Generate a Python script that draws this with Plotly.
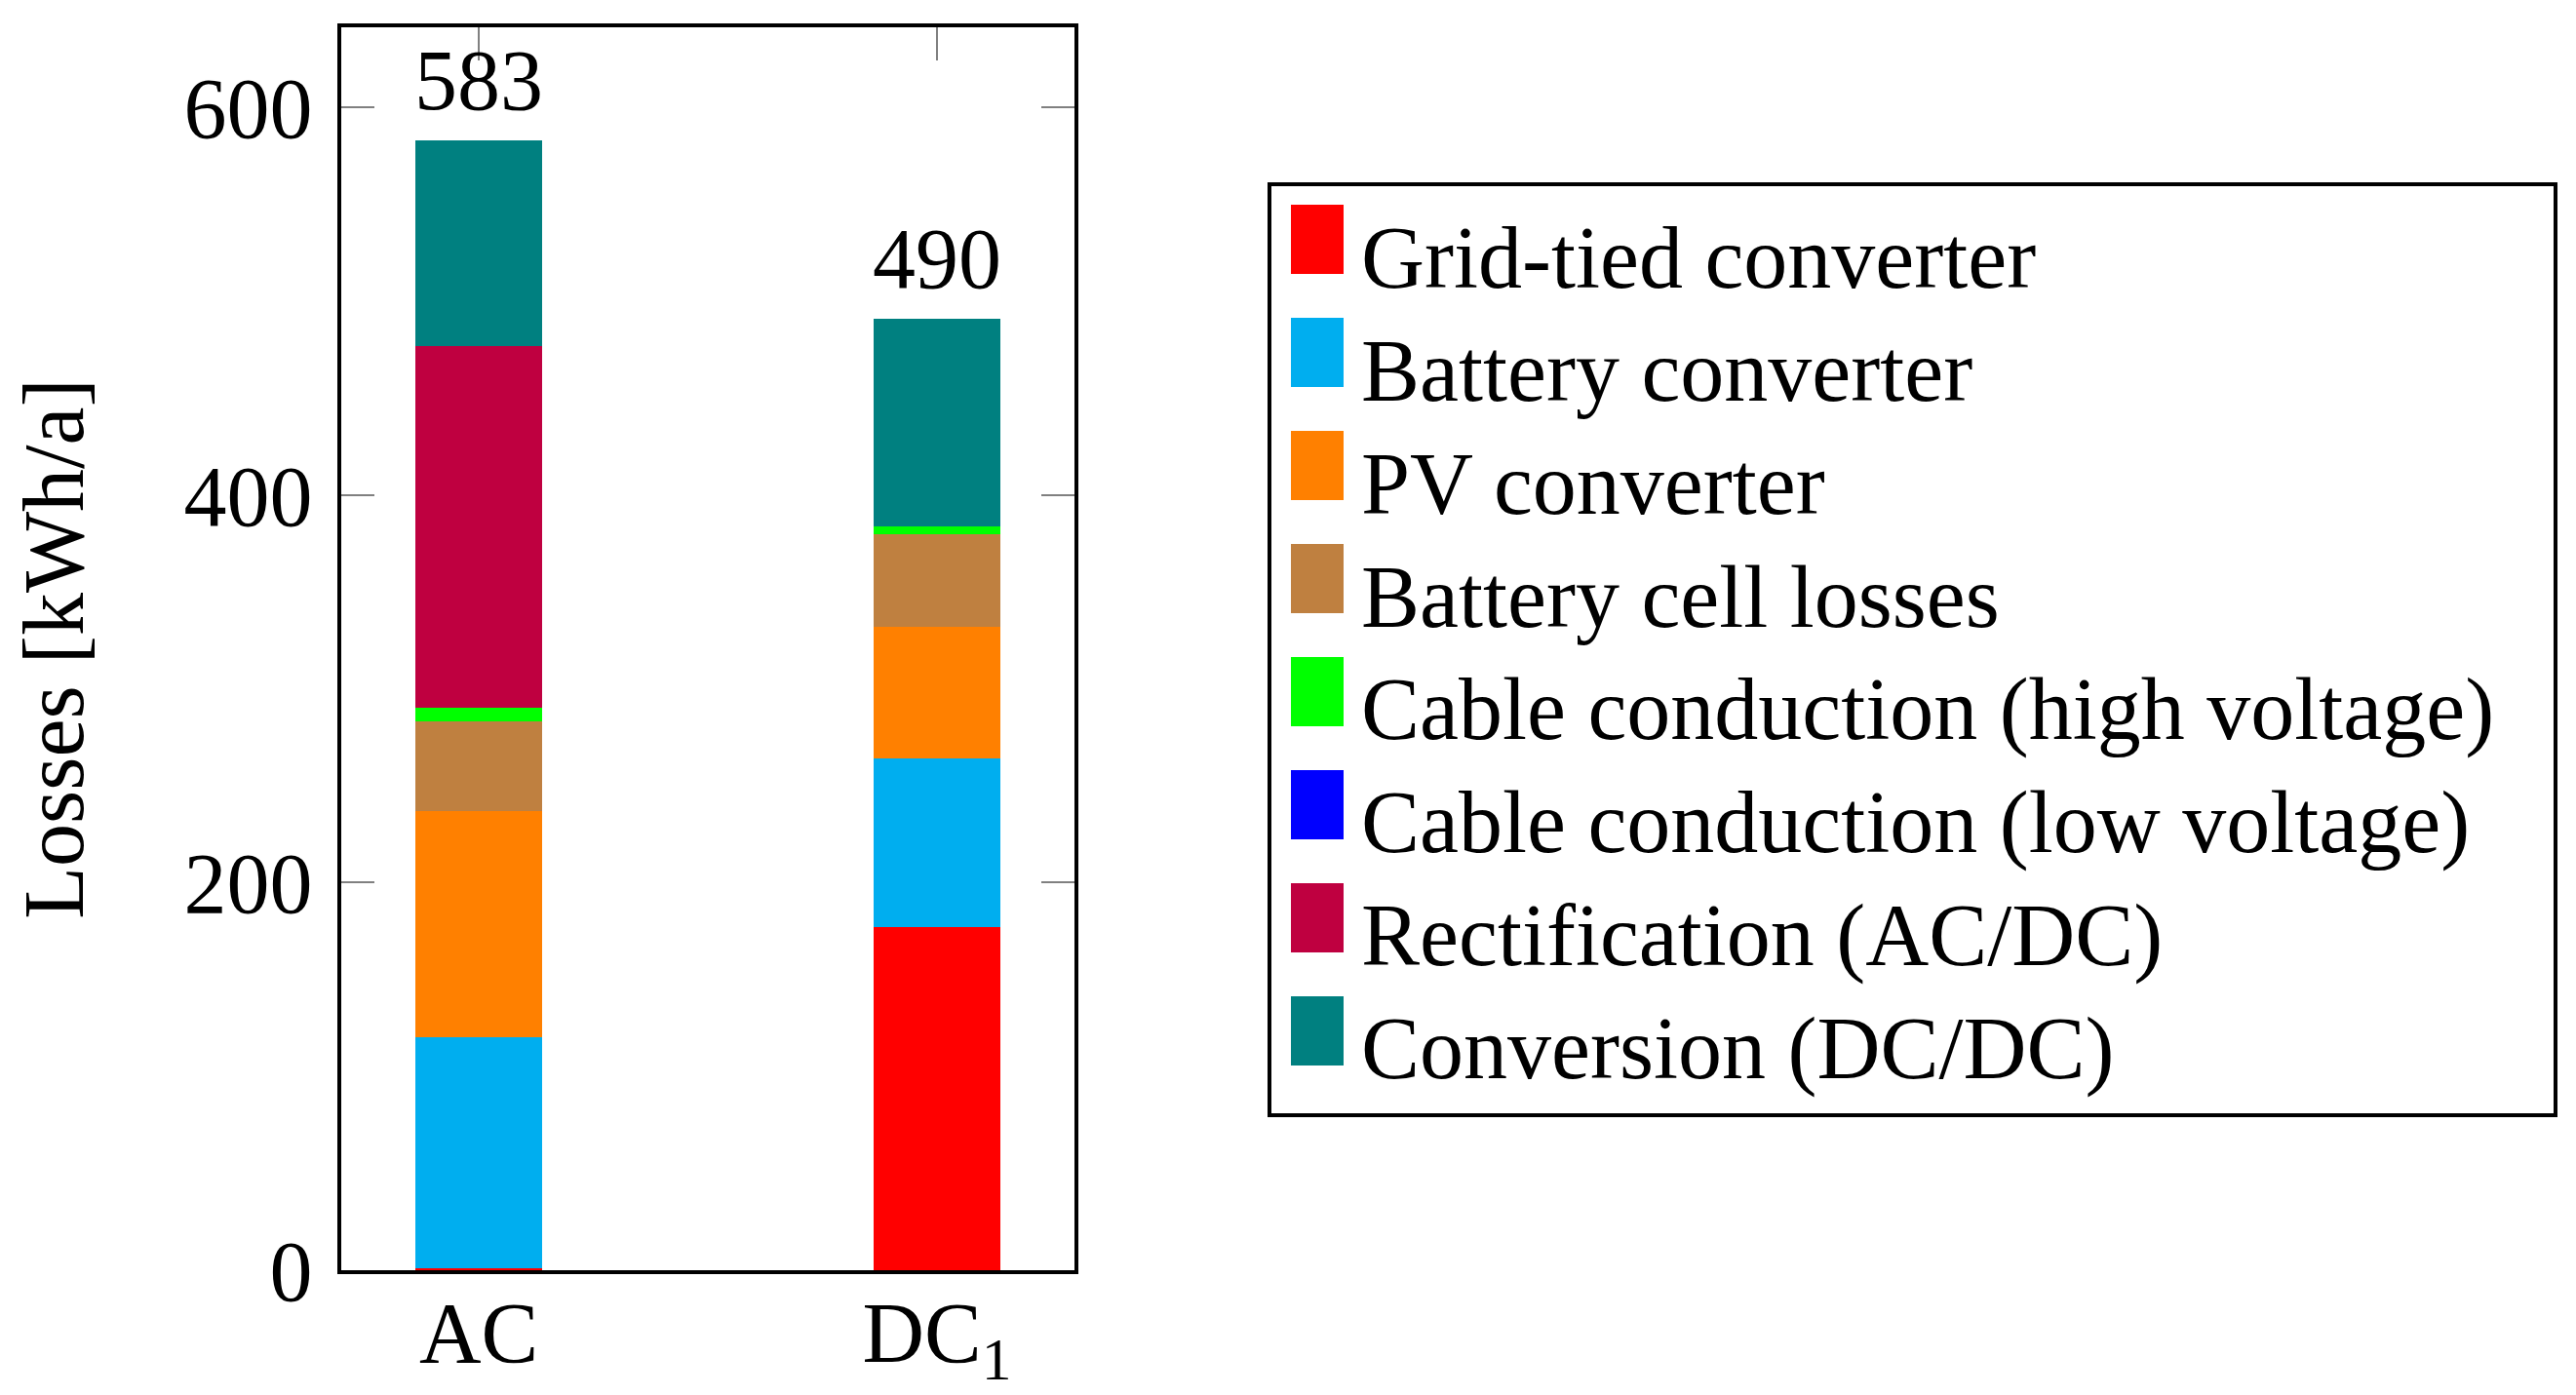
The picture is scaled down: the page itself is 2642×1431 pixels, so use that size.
import plotly.graph_objects as go

# ---- data ----
categories = ["AC", "DC<sub>1</sub>"]
series_names = [
    "Grid-tied converter",
    "Battery converter",
    "PV converter",
    "Battery cell losses",
    "Cable conduction (high voltage)",
    "Cable conduction (low voltage)",
    "Rectification (AC/DC)",
    "Conversion (DC/DC)",
]
series_colors = ["#FF0000", "#00AEEF", "#FF8000", "#BF8040",
                 "#00FF00", "#0000FF", "#BF0040", "#008080"]
grid_tied = [1, 177]
battery_conv = [119, 87]
pv_conv = [117, 68]
battery_cell = [46, 48]
cable_hv = [7, 4]
cable_lv = [0, 0]
rectification = [187, 0]
conversion = [106, 107]
totals_labels = ["583", "490"]
y_ticks = [0, 200, 400, 600]

series_values = [grid_tied, battery_conv, pv_conv, battery_cell,
                 cable_hv, cable_lv, rectification, conversion]

FONT = "Liberation Serif"
FS = 88
LEG_FS = 90
W, H = 2642, 1431
L, R, T, B = 350, 1540, 28, 128
PW, PH = W - L - R, H - T - B


def px_to_paper_x(px):
    return (px - L) / PW


def px_to_paper_y(py):
    return (H - B - py) / PH


fig = go.Figure()
for name, color, vals in zip(series_names, series_colors, series_values):
    fig.add_trace(go.Bar(
        x=categories, y=vals, name=name,
        marker=dict(color=color, line=dict(width=0)),
        width=0.275, showlegend=False,
    ))

totals = [sum(v[i] for v in series_values) for i in range(len(categories))]
ymax = max(totals) * 1.1

annotations = []
for cat, tot, lab in zip(categories, totals, totals_labels):
    annotations.append(dict(
        x=cat, y=tot, xref="x", yref="y", text=lab, showarrow=False,
        yanchor="bottom", yshift=11, font=dict(family=FONT, size=FS, color="black"),
    ))

# legend box (drawn manually for large swatches like the original)
shapes = [dict(type="rect", xref="paper", yref="paper",
               x0=px_to_paper_x(1302), x1=px_to_paper_x(2621),
               y0=px_to_paper_y(189), y1=px_to_paper_y(1144),
               line=dict(color="black", width=4), fillcolor="white", layer="below")]
row_h = 116
for i, (name, color) in enumerate(zip(series_names, series_colors)):
    top = 210 + row_h * i
    shapes.append(dict(type="rect", xref="paper", yref="paper",
                       x0=px_to_paper_x(1324), x1=px_to_paper_x(1378),
                       y0=px_to_paper_y(top + 71), y1=px_to_paper_y(top),
                       line=dict(width=0), fillcolor=color))
    annotations.append(dict(
        x=px_to_paper_x(1394), y=px_to_paper_y(top + 82 + 24), xref="paper", yref="paper",
        text=name, showarrow=False, xanchor="left", yanchor="bottom",
        font=dict(family=FONT, size=LEG_FS, color="black"),
    ))

fig.update_layout(
    width=W, height=H,
    margin=dict(l=L, r=R, t=T, b=B, autoexpand=False),
    paper_bgcolor="white", plot_bgcolor="white",
    barmode="stack", bargap=0,
    font=dict(family=FONT, size=FS, color="black"),
    annotations=annotations, shapes=shapes,
    showlegend=False,
)
fig.update_xaxes(
    range=[-0.3, 1.3], showgrid=False, zeroline=False,
    showline=True, linecolor="black", linewidth=4, mirror="allticks",
    ticks="inside", ticklen=34, tickwidth=2, tickcolor="#808080",
    ticklabelstandoff=-16,
    layer="below traces", tickfont=dict(family=FONT, size=FS),
)
fig.update_yaxes(
    range=[0, ymax], tickvals=y_ticks, showgrid=False, zeroline=False,
    showline=True, linecolor="black", linewidth=4, mirror="allticks",
    ticks="inside", ticklen=34, tickwidth=2, tickcolor="#808080",
    ticklabelstandoff=8,
    tickfont=dict(family=FONT, size=FS),
    title=dict(text="Losses [kWh/a]", font=dict(family=FONT, size=FS), standoff=75),
)

fig.write_html(
    "out.html",
    config={"displayModeBar": False},
    post_script="document.body.style.margin='0';document.body.style.overflow='hidden';",
)
